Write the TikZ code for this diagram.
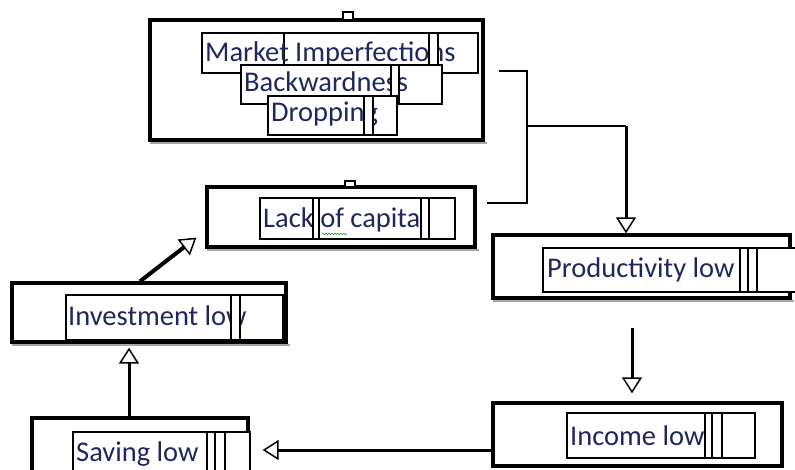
\documentclass[tikz,border=0pt]{standalone}
\usepackage{fontspec}
\setmainfont{Carlito}
\usetikzlibrary{arrows.meta, calc, decorations.pathmorphing}
\definecolor{inkblue}{RGB}{30, 40, 95}
\definecolor{spellgreen}{RGB}{40, 150, 40}

\begin{document}
\begin{tikzpicture}[x=1pt, y=-1pt,
	outerbox/.style={draw, line width=3.3pt, inner sep=0pt},
	shadeline/.style={draw=gray!70, line width=1.5pt},
	txtbox/.style={draw, line width=1.2pt, fill=white},
	strip/.style={draw, line width=1.2pt, fill=white},
	lbl/.style={anchor=base west, inner sep=0pt, text=inkblue,
		font=\fontsize{28.5}{32}\selectfont},
	link/.style={line width=1.5pt},
	flow/.style={line width=3pt,
		-{Triangle[open, length=16pt, width=20pt, line width=1.5pt]}}]
	\useasboundingbox (0,0) rectangle (795,470);
	\clip (0,0) rectangle (795,470);
	\fill[white] (0,0) rectangle (795,470);
	% outer boxes
	\node[outerbox, minimum width=333pt, minimum height=120pt] (causes) at (316.5,80) {};
	\node[outerbox, minimum width=268pt, minimum height=60pt] (lack) at (341,217) {};
	\node[outerbox, minimum width=297pt, minimum height=63pt] (prod) at (641.5,266.5) {};
	\node[outerbox, minimum width=289pt, minimum height=63pt] (income) at (637.5,434.5) {};
	\node[outerbox, minimum width=216pt, minimum height=72pt] (saving) at (140,454) {};
	\node[outerbox, minimum width=274pt, minimum height=59pt] (invest) at (149,312.5) {};
	\foreach \b in {causes, lack, prod, invest}
	\draw[shadeline] ([shift={(2pt,-1.5pt)}]\b.south west) -- ([shift={(2pt,-1.5pt)}]\b.south east);
	% small tabs on top
	\draw[line width=1.2pt, fill=white] (343,12) rectangle (353,20);
	\draw[line width=1.2pt, fill=white] (345,181) rectangle (355,187);
	% causes
	\draw[txtbox] (202,33) rectangle (478,73);
	\draw[line width=1.2pt] (284,33) -- (284,73);
	\node[lbl] (mkt) at (205,62) {Market Imperfections};
	\draw[strip] (429,33) rectangle (438,73);
	\draw[txtbox] (241,65) rectangle (442,104);
	\node[lbl] (bwd) at (244,92) {Backwardness};
	\draw[strip] (391,65) rectangle (399,104);
	\draw[txtbox] (268,96) rectangle (397,135);
	\node[lbl] (drp) at (271,122) {Dropping};
	\draw[strip] (364,96) rectangle (373,135);
	% lack of capital
	\draw[txtbox] (260,198) rectangle (455,239);
	\node[lbl] (lck) at (263,228) {Lack of capital};
	\draw[strip] (313,198) rectangle (319,239);
	\draw[strip] (421,198) rectangle (429,239);
	\draw[spellgreen, line width=0.6pt, decorate,
	decoration={snake, amplitude=0.8pt, segment length=3pt}] (322,234) -- (347,234);
	% productivity
	\draw[txtbox] (543,248) rectangle (800,292);
	\node[lbl] (prd) at (547,278) {Productivity low};
	\draw[strip] (740,248) rectangle (748,292);
	\draw[line width=1.2pt] (757,248) -- (757,292);
	% income
	\draw[txtbox] (567,413) rectangle (755,458);
	\node[lbl] (inc) at (570,445) {Income low};
	\draw[strip] (705,413) rectangle (712,458);
	\draw[line width=1.2pt] (722,413) -- (722,458);
	% saving
	\draw[txtbox] (73,432) rectangle (250,485);
	\node[lbl] (svl) at (76,461) {Saving low};
	\draw[strip] (207,432) rectangle (215,485);
	\draw[line width=1.2pt] (225,432) -- (225,485);
	% investment
	\draw[txtbox] (66,295) rectangle (283,340);
	\node[lbl] (ivl) at (68,326) {Investment low};
	\draw[strip] (231,295) rectangle (240,340);
	% connectors
	\coordinate (brk) at (527,126);
	\coordinate (drop) at (626,126);
	\draw[link] ([shift={(14pt,9pt)}]causes.east) -| (brk) |- ([shift={(10pt,14pt)}]lack.east);
	\draw[link] (brk) -- (drop);
	\draw[flow] (drop) -- (drop |- prod.north);
	\draw[flow, shorten <=28pt, shorten >=8pt] ([xshift=-9.5pt]prod.south) -- ([xshift=-5.5pt]income.north);
	\draw[flow, shorten >=13pt] ([yshift=-15.5pt]income.west) -- ([yshift=-15.5pt]income.west -| saving.east);
	\draw[flow, shorten >=4pt] ([xshift=-11pt]saving.north) -- ([xshift=-20pt]invest.south);
	\draw[flow, line width=4pt] ([xshift=-9pt]invest.north) -- ([shift={(-9pt,11pt)}]lack.south west);
\end{tikzpicture}
\end{document}
